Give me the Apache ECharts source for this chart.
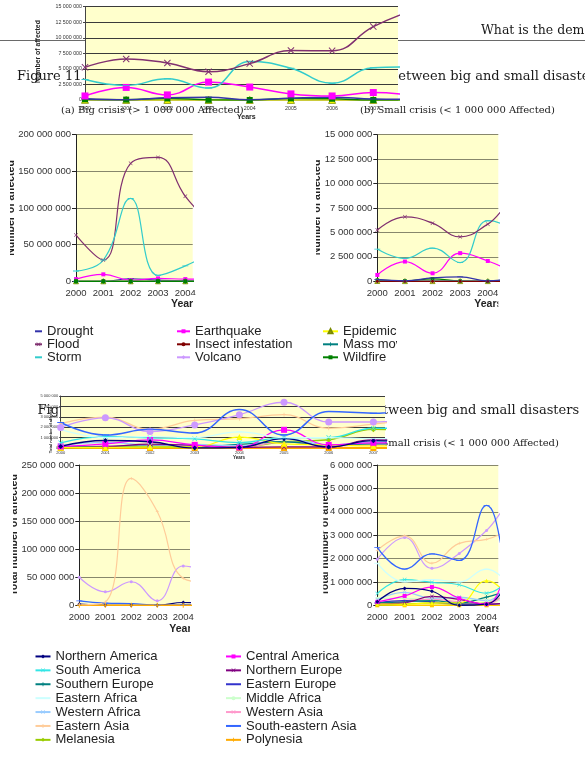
<!DOCTYPE html>
<html><head><meta charset="utf-8">
<script src="https://cdn.jsdelivr.net/npm/echarts@6/dist/echarts.min.js"></script>
<style>html,body{margin:0;padding:0;background:#fff}#c{width:585px;height:758px}</style>
</head><body><div id="c"></div>
<script>
// ---------- DATA ----------
const yearsType = [2000, 2001, 2002, 2003, 2004, 2005, 2006, 2007, 2008];
// Small crises by disaster type (number affected)
const smallFlood      = [5250000, 6600000, 5950000, 4550000, 5850000, 7950000, 7900000, 11800000, 14500000];
const smallStorm      = [3300000, 2350000, 3400000, 1920000, 6200000, 5100000, 2700000, 5200000, 5300000];
const smallEarthquake = [650000, 2020000, 820000, 2880000, 2080000, 980000, 650000, 1200000, 700000];
const smallDrought    = [200000, 50000, 350000, 450000, 50000, 300000, 450000, 150000, 100000];
const smallWildfire   = [120000, 60000, 250000, 30000, 0, 250000, 200000, 0, 0];
const smallEpidemic   = [30000, 20000, 20000, 20000, 20000, 20000, 20000, 20000, 20000];
const smallInsect     = [0, 0, 0, 0, 0, 0, 0, 0, 0];
const smallMass       = [10000, 10000, 20000, 10000, 10000, 10000, 10000, 10000, 10000];
const smallVolcano    = [10000, 10000, 10000, 10000, 10000, 10000, 10000, 10000, 10000];

const yearsBig = [2000, 2001, 2002, 2003, 2004, 2005];
// Big crises by disaster type
const bigFlood      = [63000000, 29000000, 161000000, 169000000, 116000000, 75000000];
const bigStorm      = [14000000, 29000000, 113000000, 8000000, 21000000, 40000000];
const bigEarthquake = [3000000, 9500000, 1500000, 4000000, 3000000, 3000000];
const bigDrought    = [0, 0, 3500000, 1500000, 500000, 1000000];
const bigWildfire   = [0, 0, 0, 0, 0, 0];
const bigEpidemic   = [0, 0, 0, 0, 0, 0];

// Big crises by region
const bigEasternAsia  = [1000000, 6000000, 226000000, 167000000, 48000000, 40000000];
const bigSouthernAsia = [50000000, 24000000, 42000000, 8000000, 70000000, 60000000];
const bigSEAsia       = [8000000, 4000000, 3000000, 500000, 1000000, 2000000];
const bigNAmerica     = [2000000, 0, 0, 0, 5000000, 1000000];
const bigPolynesia    = [0, 0, 0, 0, 0, 0];

// Small crises by region (2000-2008)
const yearsReg = [2000, 2001, 2002, 2003, 2004, 2005, 2006, 2007, 2008];
const regSEAsia     = [2480000, 1550000, 2200000, 1920000, 4270000, 1250000, 3500000, 3350000, 3900000];
const regSEAsiaAlt  = [2450000, 1250000, 1800000, 1450000, 3700000, 1250000, 3500000, 3350000, 3900000];
const regEAsia      = [2350000, 2970000, 1800000, 2650000, 2820000, 3200000, 1900000, 2300000, 2800000];
const regSAsia      = [1970000, 2900000, 1580000, 2220000, 3200000, 4400000, 2500000, 2500000, 3000000];
const regEAfrica    = [1800000, 1000000, 1100000, 1000000, 1550000, 1000000, 1000000, 900000, 900000];
const regSAmerica   = [500000, 1100000, 980000, 880000, 520000, 1000000, 1000000, 1900000, 1900000];
const regNAfrica    = [50000, 50000, 100000, 100000, 1050000, 400000, 300000, 200000, 200000];
const regNAmerica   = [150000, 720000, 600000, 0, 50000, 900000, 100000, 700000, 600000];
const regCAmerica   = [150000, 400000, 780000, 300000, 50000, 1750000, 300000, 500000, 500000];
const regNEurope    = [50000, 100000, 380000, 250000, 50000, 100000, 100000, 800000, 600000];
const regSEurope    = [100000, 150000, 200000, 100000, 350000, 600000, 300000, 400000, 400000];
const regEEurope    = [100000, 200000, 150000, 50000, 50000, 100000, 100000, 200000, 200000];
const regMAfrica    = [300000, 300000, 250000, 300000, 200000, 200000, 200000, 300000, 300000];
const regWAfrica    = [250000, 550000, 300000, 350000, 200000, 900000, 300000, 600000, 600000];
const regWAsia      = [100000, 200000, 250000, 150000, 50000, 600000, 200000, 300000, 300000];
const regMelanesia  = [20000, 50000, 100000, 50000, 100000, 600000, 800000, 1800000, 1700000];
const regPolynesia  = [0, 0, 0, 0, 0, 0, 0, 0, 0];

const ticksBigType   = [0, 50000000, 100000000, 150000000, 200000000];
const ticksSmallType = [0, 2500000, 5000000, 7500000, 10000000, 12500000, 15000000];
const ticksBigReg    = [0, 50000000, 100000000, 150000000, 200000000, 250000000];
const ticksSmallReg  = [0, 1000000, 2000000, 3000000, 4000000, 5000000, 6000000];
const ticksOverlayReg = [0, 1000000, 2000000, 3000000, 4000000, 5000000];

// ---------- STYLE ----------
const C = {
  Drought: '#3333AA', Earthquake: '#FF00FF', Epidemic: '#FFFF00', Flood: '#803070',
  Insect: '#800000', Mass: '#008080', Storm: '#33CCCC', Volcano: '#CC99FF', Wildfire: '#008000',
  NAmerica: '#000080', CAmerica: '#FF00FF', SAmerica: '#33E6E6', NEurope: '#800080',
  SEurope: '#008080', EEurope: '#3333CC', EAfrica: '#CCFFFF', MAfrica: '#CCFFCC',
  WAfrica: '#99CCFF', WAsia: '#FF99CC', EAsia: '#FFCC99', SEAsia: '#3366FF',
  Melanesia: '#99CC00', Polynesia: '#FFCC00', SAsia: '#CC99FF', NAfrica: '#FFFF00'
};
const X_SYM = 'path://M1,0L5,4L9,0L10,1L6,5L10,9L9,10L5,6L1,10L0,9L4,5L0,1Z';
const PLUS_SYM = 'path://M4,0H6V4H10V6H6V10H4V6H0V4H4Z';
const DASH_SYM = 'path://M0,0L0.01,0L0,0.01Z M0,4.3H10V5.7H0Z M10,10L9.99,10L10,9.99Z';
const fmt = v => String(v).replace(/\B(?=(\d{3})+(?!\d))/g, ' ');
const SANS = 'Liberation Sans';
const SERIF = 'DejaVu Serif';

// grids: 0 top overlay, 1 middle overlay, 2 (a), 3 (b), 4 (c), 5 (d)
const gridBoxes = [
  {left: 85, top: 6.7, width: 313, height: 93.3},
  {left: 60.7, top: 396, width: 324.3, height: 52},
  {left: 76, top: 134.7, width: 116.7, height: 146.6},
  {left: 377.3, top: 134.7, width: 121, height: 146.6},
  {left: 79.3, top: 465, width: 110.7, height: 140.3},
  {left: 377.3, top: 465, width: 121, height: 140.3}
];
const xMax = [2007.6, 2007.26, 2004.27, 2004.38, 2004.26, 2004.43];
const yTicks = [ticksSmallType, ticksOverlayReg, ticksBigType, ticksSmallType, ticksBigReg, ticksSmallReg];
const axisStyle = [
  {fs: 5.3, xm: 6, ym: 3, grid: '#3a3a3a', gw: 1.1, axis: '#444', tick: 2},
  {fs: 4, xm: 2.5, ym: 2.5, grid: '#3a3a3a', gw: 1.1, axis: '#444', tick: 1.5},
  {fs: 9.5, xm: 7, ym: 5, grid: '#87876c', gw: 1, axis: '#222', tick: 4},
  {fs: 9.5, xm: 7, ym: 5, grid: '#87876c', gw: 1, axis: '#222', tick: 4},
  {fs: 9.5, xm: 7, ym: 5, grid: '#87876c', gw: 1, axis: '#222', tick: 4},
  {fs: 9.5, xm: 7, ym: 5, grid: '#87876c', gw: 1, axis: '#222', tick: 4}
];

const grids = gridBoxes.map(b => Object.assign({show: true, backgroundColor: '#FFFFCC', borderWidth: 0, containLabel: false, outerBoundsMode: 'none'}, b));
const xAxes = gridBoxes.map((b, i) => ({
  gridIndex: i, type: 'value', min: 2000, max: xMax[i], interval: 1,
  axisLine: {show: true, onZero: false, lineStyle: {color: '#888', width: 1}},
  axisTick: {show: false}, splitLine: {show: false},
  axisLabel: {fontSize: axisStyle[i].fs, color: '#333', fontFamily: SANS, margin: axisStyle[i].xm, showMaxLabel: false, hideOverlap: false,
    formatter: v => Number.isInteger(v) ? String(v) : ''}
}));
const yAxes = gridBoxes.map((b, i) => {
  const t = yTicks[i];
  return {
    gridIndex: i, type: 'value', min: 0, max: t[t.length - 1], interval: t[1] - t[0],
    axisLine: {show: true, lineStyle: {color: axisStyle[i].axis, width: 1}},
    axisTick: {show: true, length: axisStyle[i].tick, lineStyle: {color: axisStyle[i].axis}},
    splitLine: {show: true, lineStyle: {color: axisStyle[i].grid, width: axisStyle[i].gw}},
    axisLabel: {fontSize: axisStyle[i].fs, color: '#333', fontFamily: SANS, margin: axisStyle[i].ym, formatter: fmt, hideOverlap: false}
  };
});

function line(name, gi, years, vals, color, sym, size, width, extra) {
  return Object.assign({
    type: 'line', name, xAxisIndex: gi, yAxisIndex: gi,
    data: years.map((y, i) => [y, vals[i]]),
    smooth: 0.45, symbol: sym, symbolSize: size, showSymbol: true,
    itemStyle: {color}, lineStyle: {color, width}, clip: true, animation: false,
    emphasis: {disabled: true}, silent: true
  }, extra || {});
}
const epiStyle = {itemStyle: {color: C.Epidemic, borderColor: '#7a8a00', borderWidth: 0.8}};

const series = [
  // (a) big crises by type
  line('Drought', 2, yearsBig, bigDrought, C.Drought, DASH_SYM, 6, 1.2),
  line('Flood', 2, yearsBig, bigFlood, C.Flood, X_SYM, 4, 1.2),
  line('Storm', 2, yearsBig, bigStorm, C.Storm, DASH_SYM, 6, 1.2),
  line('Earthquake', 2, yearsBig, bigEarthquake, C.Earthquake, 'rect', 4, 1.2),
  line('Insect infestation', 2, yearsBig, [0,0,0,0,0,0], C.Insect, 'circle', 4, 1.2),
  line('Volcano', 2, yearsBig, [0,0,0,0,0,0], C.Volcano, 'diamond', 5, 1.2),
  line('Epidemic', 2, yearsBig, bigEpidemic, C.Epidemic, 'triangle', 5, 1.2, epiStyle),
  line('Mass movement', 2, yearsBig, [0,0,0,0,0,0], C.Mass, PLUS_SYM, 5, 1.2),
  line('Wildfire', 2, yearsBig, bigWildfire, C.Wildfire, 'rect', 4, 1.2),
  // (b) small crises by type
  line('Epidemic', 3, yearsType, smallEpidemic, C.Epidemic, 'triangle', 5, 1.2, epiStyle),
  line('Wildfire', 3, yearsType, smallWildfire, C.Wildfire, 'rect', 3.5, 1.2),
  line('Volcano', 3, yearsType, smallVolcano, C.Volcano, 'diamond', 4, 1.2),
  line('Mass movement', 3, yearsType, smallMass, C.Mass, PLUS_SYM, 4, 1.2),
  line('Insect infestation', 3, yearsType, smallInsect, C.Insect, 'circle', 3, 1.2),
  line('Drought', 3, yearsType, smallDrought, C.Drought, DASH_SYM, 6, 1.2),
  line('Earthquake', 3, yearsType, smallEarthquake, C.Earthquake, 'rect', 4, 1.2),
  line('Storm', 3, yearsType, smallStorm, C.Storm, DASH_SYM, 6, 1.2),
  line('Flood', 3, yearsType, smallFlood, C.Flood, X_SYM, 4, 1.2),
  // top overlay (same small-by-type data, 2000-2008)
  line('Epidemic', 0, yearsType, smallEpidemic, C.Epidemic, 'triangle', 7, 1.5, epiStyle),
  line('Wildfire', 0, yearsType, smallWildfire, C.Wildfire, 'rect', 6, 1.5),
  line('Drought', 0, yearsType, smallDrought, C.Drought, DASH_SYM, 7, 1.5),
  line('Earthquake', 0, yearsType, smallEarthquake, C.Earthquake, 'rect', 7, 1.5),
  line('Storm', 0, yearsType, smallStorm, C.Storm, DASH_SYM, 7, 1.5),
  line('Flood', 0, yearsType, smallFlood, C.Flood, X_SYM, 7, 1.5),
  // (c) big crises by region
  line('Northern America', 4, yearsBig, bigNAmerica, C.NAmerica, 'diamond', 4, 1.2),
  line('South-eastern Asia', 4, yearsBig, bigSEAsia, C.SEAsia, DASH_SYM, 6, 1.2),
  line('Polynesia', 4, yearsBig, bigPolynesia, '#FFAA00', PLUS_SYM, 5, 1.5),
  line('Southern Asia', 4, yearsBig, bigSouthernAsia, C.SAsia, 'circle', 3, 1.2),
  line('Eastern Asia', 4, yearsBig, bigEasternAsia, C.EAsia, PLUS_SYM, 3, 1.2),
  // (d) small crises by region
  line('Polynesia', 5, yearsReg, regPolynesia, C.Polynesia, 'rect', 4, 1.5),
  line('Melanesia', 5, yearsReg, regMelanesia, C.Melanesia, 'diamond', 4, 1.2),
  line('Middle Africa', 5, yearsReg, regMAfrica, C.MAfrica, 'circle', 3, 1.2),
  line('Western Asia', 5, yearsReg, regWAsia, C.WAsia, X_SYM, 4, 1.2),
  line('Eastern Europe', 5, yearsReg, regEEurope, C.EEurope, DASH_SYM, 6, 1.2),
  line('Southern Europe', 5, yearsReg, regSEurope, C.SEurope, PLUS_SYM, 4, 1.2),
  line('Western Africa', 5, yearsReg, regWAfrica, C.WAfrica, X_SYM, 4, 1.2),
  line('Northern Europe', 5, yearsReg, regNEurope, C.NEurope, X_SYM, 4, 1.2),
  line('Northern Africa', 5, yearsReg, regNAfrica, C.NAfrica, 'triangle', 4, 1.2),
  line('Central America', 5, yearsReg, regCAmerica, C.CAmerica, 'rect', 4, 1.2),
  line('Northern America', 5, yearsReg, regNAmerica, C.NAmerica, 'diamond', 4, 1.2),
  line('South America', 5, yearsReg, regSAmerica, C.SAmerica, X_SYM, 4, 1.2),
  line('Eastern Africa', 5, yearsReg, regEAfrica, C.EAfrica, DASH_SYM, 6, 1.2),
  line('Southern Asia', 5, yearsReg, regSAsia, C.SAsia, 'circle', 3, 1.2),
  line('Eastern Asia', 5, yearsReg, regEAsia, C.EAsia, PLUS_SYM, 3, 1.2),
  line('South-eastern Asia', 5, yearsReg, regSEAsia, C.SEAsia, DASH_SYM, 6, 1.3),
  // middle overlay (small-by-region, 2000-2008)
  line('Polynesia', 1, yearsReg, regPolynesia, '#FFAA00', 'rect', 6, 2),
  line('Melanesia', 1, yearsReg, regMelanesia, C.Melanesia, 'diamond', 6, 1.5),
  line('Western Asia', 1, yearsReg, regWAsia, C.WAsia, X_SYM, 5, 1.3),
  line('Southern Europe', 1, yearsReg, regSEurope, C.SEurope, PLUS_SYM, 5, 1.3),
  line('Western Africa', 1, yearsReg, regWAfrica, C.WAfrica, X_SYM, 5, 1.3),
  line('Northern Europe', 1, yearsReg, regNEurope, C.NEurope, X_SYM, 5, 1.3),
  line('Northern Africa', 1, yearsReg, regNAfrica, C.NAfrica, 'triangle', 6, 1.3),
  line('Central America', 1, yearsReg, regCAmerica, C.CAmerica, 'rect', 6, 1.3),
  line('Northern America', 1, yearsReg, regNAmerica, C.NAmerica, 'diamond', 5, 1.3),
  line('South America', 1, yearsReg, regSAmerica, C.SAmerica, X_SYM, 5, 1.3),
  line('Eastern Africa', 1, yearsReg, regEAfrica, C.EAfrica, DASH_SYM, 6, 1.3),
  line('Eastern Asia', 1, yearsReg, regEAsia, C.EAsia, PLUS_SYM, 4, 1.3),
  line('Southern Asia', 1, yearsReg, regSAsia, C.SAsia, 'circle', 7, 1.3),
  line('South-eastern Asia', 1, yearsReg, regSEAsiaAlt, C.SEAsia, DASH_SYM, 7, 1.5)
];

const legendBase = {orient: 'vertical', padding: 0, itemGap: 0, itemHeight: 5, selectedMode: false,
  textStyle: {fontSize: 13, fontFamily: SANS, color: '#222'}};
const mkLegend = (o, lh) => Object.assign({}, legendBase, o, {textStyle: Object.assign({}, legendBase.textStyle, {lineHeight: lh})});
const legends = [
  mkLegend({left: 34, top: 324.8, itemWidth: 7, data: ['Drought', 'Flood', 'Storm']}, 12.85),
  mkLegend({left: 176, top: 324.8, itemWidth: 13, data: ['Earthquake', 'Insect infestation', 'Volcano']}, 12.85),
  mkLegend({left: 322, top: 324.8, itemWidth: 15, data: ['Epidemic', 'Mass movement', 'Wildfire']}, 12.85),
  mkLegend({left: 34.5, top: 649.5, itemWidth: 15, data: ['Northern America', 'South America', 'Southern Europe', 'Eastern Africa', 'Western Africa', 'Eastern Asia', 'Melanesia']}, 13.9),
  mkLegend({left: 225, top: 649.5, itemWidth: 15, data: ['Central America', 'Northern Europe', 'Eastern Europe', 'Middle Africa', 'Western Asia', 'South-eastern Asia', 'Polynesia']}, 13.9)
];

// ---------- page text (drawn below the chart plates) ----------
const T = (text, x, y, size, extra) => Object.assign({type: 'text', x, y, z: -10, silent: true,
  style: {text, fontSize: size, fontFamily: SERIF, fill: '#1a1a1a', align: 'left', verticalAlign: 'middle'}}, extra || {});
const B = (text, x, y, size, rot, z) => ({type: 'text', x, y, z: z || 5, rotation: rot || 0, silent: true,
  style: {text, fontSize: size, fontFamily: SANS, fontWeight: 'bold', fill: '#222', align: rot ? 'center' : 'left', verticalAlign: 'middle'}});
const W = (x, y, w, h) => ({type: 'rect', z: 50, silent: true, shape: {x, y, width: w, height: h}, style: {fill: '#ffffff'}});

const graphics = [
  T('What is the dem', 481, 31, 12.5),
  {type: 'line', z: -10, silent: true, shape: {x1: 0, y1: 40.5, x2: 585, y2: 40.5}, style: {stroke: '#6a6a6a', lineWidth: 1}},
  T('Figure 11.', 17, 77, 13),
  T('between big and small disaste', 390, 77, 13),
  T('(a) Big crisis (> 1 000 000 Affected)', 61, 110, 10),
  T('(b) Small crisis (< 1 000 000 Affected)', 360, 110, 10),
  T('Figure 12.', 37.5, 410.7, 13),
  T('between big and small disasters', 366.8, 410.7, 13),
  T('(a) Big crisis (> 1 000 000 Affected)', 62, 443.3, 10),
  T('(b) Small crisis (< 1 000 000 Affected)', 364, 443.3, 10),
  // overlay axis titles
  B('Number of affected', 38.4, 51.5, 6.9, Math.PI / 2),
  B('Years', 237, 117, 7),
  B('Total number of affected', 51, 430, 4, Math.PI / 2),
  B('Years', 233, 458, 4.5),
  // main chart axis titles (clipped by the page crop)
  B('Number of affected', 11.5, 208, 10.5, Math.PI / 2),
  B('Number of affected', 317.5, 207.5, 10.5, Math.PI / 2),
  B('Total number of affected', 14.5, 535, 10.5, Math.PI / 2),
  B('Total number of affected', 324.8, 535, 10.5, Math.PI / 2),
  B('Years', 171, 304.3, 10.5),
  B('Years', 474.3, 304.3, 10.5),
  B('Years', 169.3, 629, 10.5),
  B('Years', 473.3, 629, 10.5),
  W(0, 140, 10, 140), W(290, 140, 26, 140), W(0, 468, 13, 135), W(296, 468, 27.3, 135),
  W(193, 295, 100, 18), W(498.3, 295, 87, 18), W(190, 620, 100, 18), W(498.5, 620, 87, 18),
  W(397, 336, 60, 14)
];

const chart = echarts.init(document.getElementById('c'), null, {renderer: 'canvas', width: 585, height: 758});
chart.setOption({
  backgroundColor: '#ffffff',
  animation: false,
  grid: grids, xAxis: xAxes, yAxis: yAxes,
  legend: legends,
  series,
  graphic: {elements: graphics}
});
</script>
</body></html>
